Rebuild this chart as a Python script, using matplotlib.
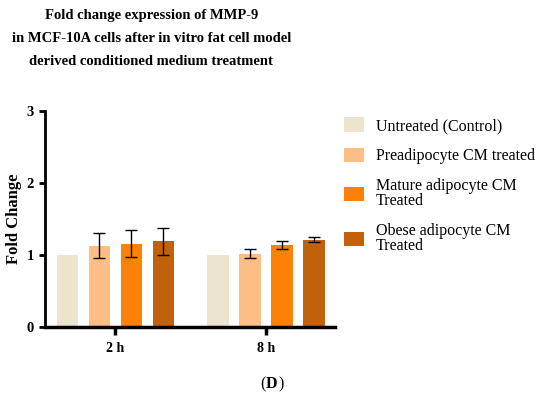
import numpy as np
import matplotlib.pyplot as plt
from matplotlib.patches import Patch

plt.rcParams['font.family'] = ['Liberation Serif', 'DejaVu Serif']

# data
groups = ["2 h", "8 h"]
series = ["Untreated (Control)", "Preadipocyte CM treated",
          "Mature adipocyte CM\nTreated", "Obese adipocyte CM\nTreated"]
colors = ["#EAE5CC", "#FDBE85", "#FD8008", "#C2610C"]
means = [[1.00, 1.00],
         [1.13, 1.02],
         [1.16, 1.14],
         [1.19, 1.21]]
errs = [[0.00, 0.00],
        [0.17, 0.06],
        [0.19, 0.06],
        [0.19, 0.035]]

fig = plt.figure(figsize=(5.5, 3.95), dpi=100)
ax = fig.add_axes([0.0818, 0.172, 0.527, 0.547])

x = np.arange(len(groups))
step = 0.2126
width = 0.143
for i in range(len(series)):
    pos = x + (i - 1.5) * step
    ax.bar(pos, means[i], width=width, color=colors[i], zorder=2)
    if i > 0:
        ax.errorbar(pos, means[i], yerr=errs[i], fmt="none", ecolor="black",
                    elinewidth=1.0, capsize=4.5, capthick=1.0, zorder=3)

ax.set_xlim(-0.468, 1.458)
ax.set_ylim(0, 3)
ax.set_yticks([0, 1, 2, 3])
ax.set_xticks(x)
ax.set_xticklabels(groups, fontweight="bold", fontsize=10)
for t in ax.get_yticklabels():
    t.set_fontweight("bold")
    t.set_fontsize(10.5)
ax.spines["top"].set_visible(False)
ax.spines["right"].set_visible(False)
ax.spines["left"].set_linewidth(2)
ax.spines["bottom"].set_linewidth(2.5)
ax.tick_params(axis="y", width=2, length=4, pad=4)
ax.tick_params(axis="x", width=2.5, length=6, pad=5)
ax.set_ylabel("Fold Change", fontweight="bold", fontsize=12)
ax.yaxis.set_label_coords(-0.079, 0.5)

fig.text(0.275, 0.978,
         "Fold change expression of MMP-9\nin MCF-10A cells after in vitro fat cell model\nderived conditioned medium treatment",
         ha="center", va="top", fontsize=10.5, fontweight="bold", linespacing=2.0)

handles = [Patch(facecolor=c) for c in colors]
leg = fig.legend(handles, series, loc="upper left", bbox_to_anchor=(0.6, 0.739),
                 frameon=False, fontsize=11.5, handlelength=1.2, handleheight=1.0,
                 handletextpad=0.75, labelspacing=0.85)
for t in leg.get_texts():
    t.set_linespacing(0.95)

fig.text(0.483, 0.028, "(", ha="right", va="center", fontsize=11.5)
fig.text(0.483, 0.028, "D", ha="left", va="center", fontsize=11.5, fontweight="bold")
fig.text(0.507, 0.028, ")", ha="left", va="center", fontsize=11.5)

fig.savefig("out.png", dpi=100)
